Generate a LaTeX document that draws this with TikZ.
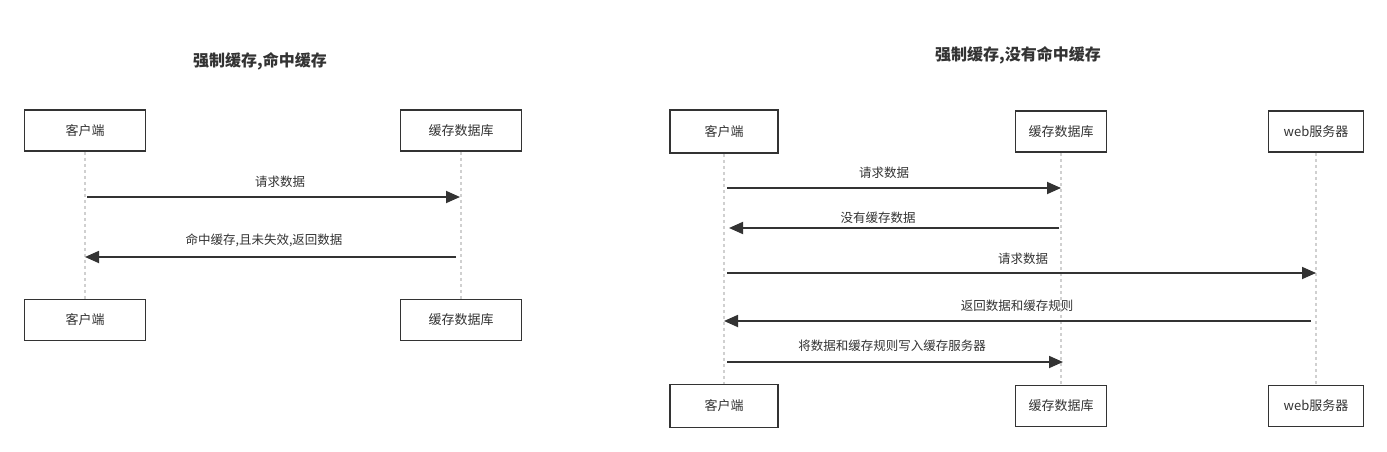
\documentclass[tikz,border=0pt]{standalone}
\usepackage{fontspec}
\setmainfont{Noto Sans CJK SC}
\usetikzlibrary{arrows.meta,positioning}
\definecolor{InkClr}{HTML}{333333}
\definecolor{LifeClr}{HTML}{D0D0D0}

\tikzset{
  actor/.style={draw=InkClr,line width=1.6pt,fill=white,text=InkClr,
    font=\fontsize{13}{15}\selectfont,minimum height=41pt,inner sep=0pt},
  lifeline/.style={draw=LifeClr,line width=1.4pt,dash pattern=on 3pt off 3pt},
  msg/.style={draw=InkClr,line width=1.8pt,
    -{Triangle[length=14pt,width=12pt]}},
  msglabel/.style={text=InkClr,font=\fontsize{12.5}{14}\selectfont,inner sep=0pt},
  title/.style={text=InkClr,font=\fontsize{16}{18}\selectfont\bfseries}
}

\begin{document}
\begin{tikzpicture}[x=1pt,y=-1pt]
\useasboundingbox (0,0) rectangle (1387,452);

% left: cache hit
\node[title] (hitTitle) at (260,61) {强制缓存,命中缓存};

\node[actor,minimum width=121pt] (cliA) at (85,130.5) {客户端};
\node[actor,minimum width=121pt] (dbA) at (461,130.5) {缓存数据库};
\node[actor,minimum width=121pt] (cliAb) at (85,320) {客户端};
\node[actor,minimum width=121pt] (dbAb) at (461,320) {缓存数据库};

\draw[lifeline] (cliA) -- (cliAb);
\draw[lifeline] (dbA) -- (dbAb);

\coordinate (hit1) at (0,197);
\coordinate (hit2) at (0,257);
\draw[msg] ([xshift=2pt]cliA.south |- hit1) -- ([xshift=-1pt]dbA.south |- hit1);
\draw[msg] ([xshift=-5pt]dbA.south |- hit2) -- (cliA.south |- hit2);
\node[msglabel] (hitLbl1) at (280,182) {请求数据};
\node[msglabel] (hitLbl2) at (264,240) {命中缓存,且未失效,返回数据};

% right: cache miss
\node[title] (missTitle) at (1018,55) {强制缓存,没有命中缓存};

\node[actor,minimum width=108pt,minimum height=43pt] (cliB) at (724,131.5) {客户端};
\node[actor,minimum width=91pt] (dbB) at (1061,131.5) {缓存数据库};
\node[actor,minimum width=95pt] (webB) at (1316,131.5) {web服务器};
\node[actor,minimum width=108pt,minimum height=43pt] (cliBb) at (724,406) {客户端};
\node[actor,minimum width=91pt] (dbBb) at (1061,406) {缓存数据库};
\node[actor,minimum width=95pt] (webBb) at (1316,406) {web服务器};

\draw[lifeline] (cliB) -- (cliBb);
\draw[lifeline] (dbB) -- (dbBb);
\draw[lifeline] (webB) -- (webBb);

\coordinate (miss1) at (0,188);
\coordinate (miss2) at (0,228);
\coordinate (miss3) at (0,273);
\coordinate (miss4) at (0,321);
\coordinate (miss5) at (0,362);
\draw[msg] ([xshift=3pt]cliB.south |- miss1) -- (dbB.south |- miss1);
\draw[msg] ([xshift=-2pt]dbB.south |- miss2) -- ([xshift=5pt]cliB.south |- miss2);
\draw[msg] ([xshift=3pt]cliB.south |- miss3) -- (webB.south |- miss3);
\draw[msg] ([xshift=-5pt]webB.south |- miss4) -- (cliB.south |- miss4);
\draw[msg] ([xshift=3pt]cliB.south |- miss5) -- ([xshift=2pt]dbB.south |- miss5);
\node[msglabel] (missLbl1) at (884,173) {请求数据};
\node[msglabel] (missLbl2) at (878,218) {没有缓存数据};
\node[msglabel] (missLbl3) at (1023,259) {请求数据};
\node[msglabel] (missLbl4) at (1017,306) {返回数据和缓存规则};
\node[msglabel] (missLbl5) at (892,346) {将数据和缓存规则写入缓存服务器};
\end{tikzpicture}
\end{document}
